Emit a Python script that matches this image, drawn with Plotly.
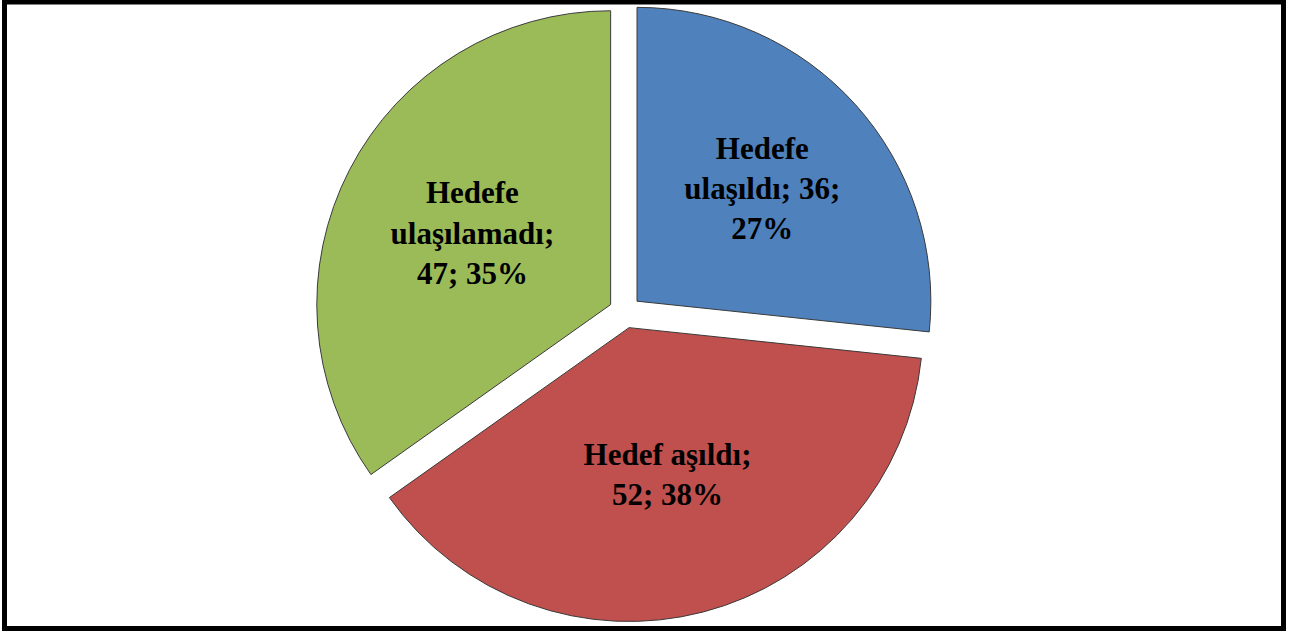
import plotly.graph_objects as go

labels = ["Hedefe ulaşıldı", "Hedef aşıldı", "Hedefe ulaşılamadı"]
values = [36, 52, 47]
slice_texts = [
    "Hedefe<br>ulaşıldı; 36;<br>27%",
    "Hedef aşıldı;<br>52; 38%",
    "Hedefe<br>ulaşılamadı;<br>47; 35%",
]
colors = ["#4F81BD", "#C0504D", "#9BBB59"]

W, H = 1289, 634

fig = go.Figure(go.Pie(
    labels=labels,
    values=values,
    text=slice_texts,
    textinfo="text",
    texttemplate="%{text}",
    textposition="inside",
    insidetextorientation="horizontal",
    sort=False,
    direction="clockwise",
    rotation=0,
    pull=[0.055, 0.055, 0.055],
    marker=dict(colors=colors, line=dict(color="#3a3a3a", width=1)),
    textfont=dict(family="Liberation Serif", size=31, color="black", weight="bold"),
    showlegend=False,
    hoverinfo="label+value+percent",
    domain=dict(x=[0, 1250 / W], y=[12 / H, 1 - 2 / H]),
))

fig.update_layout(
    width=W, height=H,
    margin=dict(l=0, r=0, t=0, b=0),
    paper_bgcolor="white",
    plot_bgcolor="white",
    shapes=[dict(type="rect", xref="paper", yref="paper",
                 x0=4.5 / W, x1=1283.5 / W, y0=1 - 628.5 / H, y1=1 - 2 / H,
                 line=dict(color="black", width=5), layer="above")],
)

fig.write_html("out.html",
               config={"displayModeBar": False},
               post_script="document.body.style.margin='0';document.body.style.overflow='hidden';")
